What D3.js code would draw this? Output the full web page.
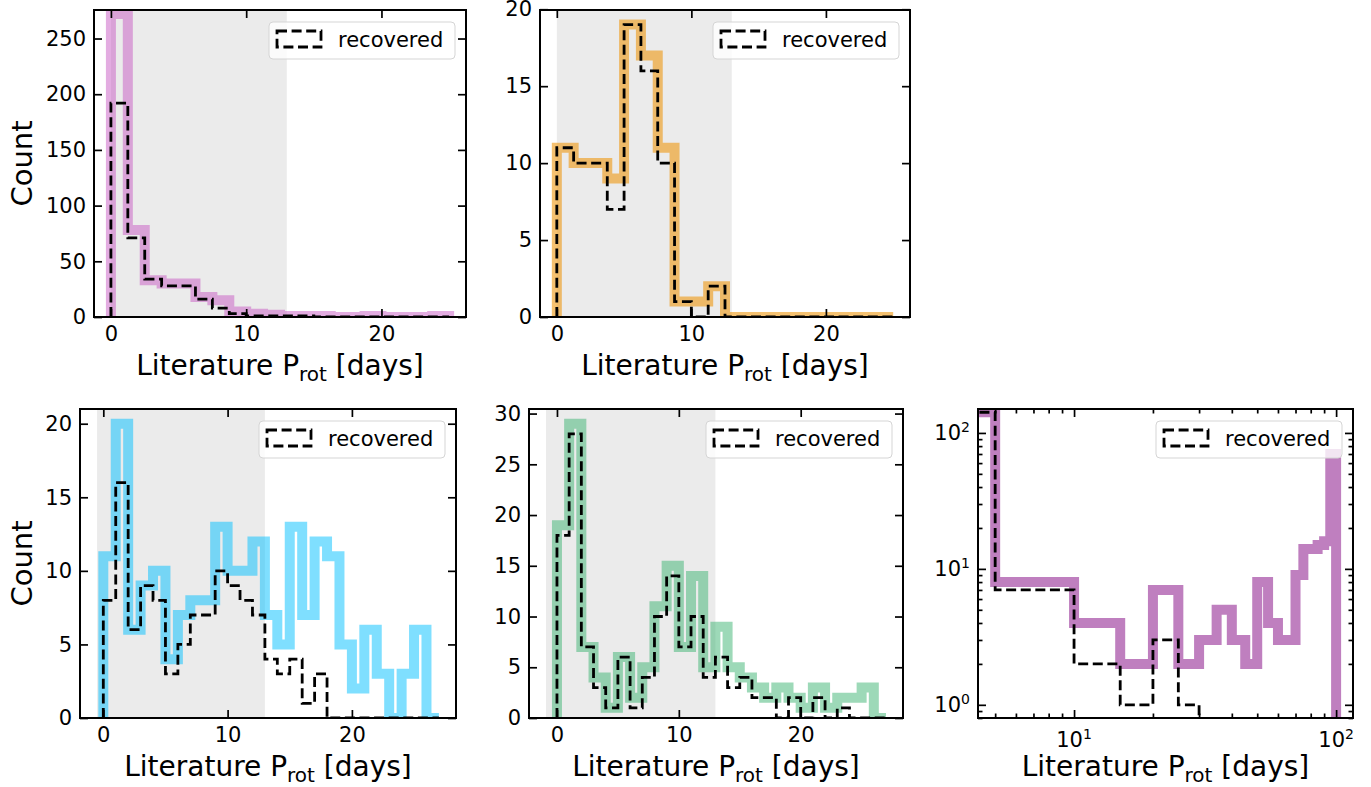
<!DOCTYPE html>
<html>
<head>
<meta charset="utf-8">
<script src="https://cdn.jsdelivr.net/npm/d3@7"></script>
<style>
  body { margin: 0; background: #fff; }
  svg { display: block; }
  text { font-family: "DejaVu Sans", sans-serif; fill: #000; }
</style>
</head>
<body>
<svg id="fig" width="1371" height="787"></svg>
<script>
// ---- bin edges (days) ----
const edgesShort = [0, 1.25, 2.5, 3.75, 5, 6.25, 7.5, 8.75, 10, 11.25, 12.5, 13.75, 15,
                    16.25, 17.5, 18.75, 20, 21.25, 22.5, 23.75, 25];
const edgesDaily = [0, 1, 2, 3, 4, 5, 6, 7, 8, 9, 10, 11, 12, 13, 14, 15, 16, 17, 18, 19,
                    20, 21, 22, 23, 24, 25, 26, 27];
const edgesWide  = [0, 5, 10, 15, 20, 25, 30, 35, 40, 45, 50, 55, 60, 65, 70, 75, 80, 85,
                    90, 95, 100];

// ---- counts per bin: full literature sample and recovered subset ----
const pinkAll  = [272, 78, 33, 30, 30, 18, 15, 5, 3, 2, 1, 1, 1, 0, 0, 1, 0, 0, 0, 1];
const pinkRec  = [192, 71, 34, 28, 28, 16, 8, 3, 1, 1, 1, 1, 0, 0, 0, 0, 0, 0, 0, 0];

const orangeAll = [11, 10, 10, 9, 19, 17, 11, 1, 1, 2, 0, 0, 0, 0, 0, 0, 0, 0, 0, 0];
const orangeRec = [11, 10, 10, 7, 19, 16, 10, 1, 0, 2, 0, 0, 0, 0, 0, 0, 0, 0, 0, 0];

const blueAll = [11, 20, 6, 9, 10, 4, 7, 8, 8, 13, 10, 10, 12, 7, 5, 13, 7, 12, 11, 5,
                 2, 6, 3, 0, 3, 6, 0];
const blueRec = [8, 16, 6, 9, 8, 3, 5, 7, 7, 10, 9, 8, 7, 4, 3, 4, 1, 3, 0, 0,
                 0, 0, 0, 0, 0, 0, 0];

const greenAll = [19, 29, 7, 4, 1, 6, 2, 5, 11, 15, 7, 14, 5, 9, 5, 4, 3, 2, 3, 2,
                  1, 3, 1, 2, 2, 3, 0];
const greenRec = [18, 28, 7, 3, 1, 6, 1, 4, 10, 14, 7, 10, 4, 6, 3, 4, 2, 2, 0, 2,
                  0, 2, 0, 1, 0, 0, 0];

const purpleAll = [142, 8, 4, 2, 7, 2, 3, 5, 3, 2, 8, 4, 3, 3, 9, 14, 14, 15, 16, 70];
const purpleRec = [142, 7, 2, 1, 3, 1, 0, 0, 0, 0, 0, 0, 0, 0, 0, 0, 0, 0, 0, 0];

// ---- tick values ----
const linXTicks = [0, 10, 20];
const pinkYTicks = [0, 50, 100, 150, 200, 250];
const orangeYTicks = [0, 5, 10, 15, 20];
const blueYTicks = [0, 5, 10, 15, 20];
const greenYTicks = [0, 5, 10, 15, 20, 25, 30];
const logMajor = [1, 10, 100];
const logMinorY = [0.8, 0.9, 2, 3, 4, 5, 6, 7, 8, 9, 20, 30, 40, 50, 60, 70, 80, 90];
const logMinorX = [5, 6, 7, 8, 9, 20, 30, 40, 50, 60, 70, 80, 90];

const FS_TICK = 21, FS_LABEL = 28, FS_LEGEND = 21;
const DASH = "10,4.6", DASH_W = 2.8;
const svg = d3.select("#fig");

const panels = [
  { id: "a", box: [94, 10, 466, 317], edges: edgesShort, all: pinkAll, rec: pinkRec,
    color: "#c85ac4", alpha: 0.5, xDomain: [-1.25, 26.25], yTop: 275.6, yTicks: pinkYTicks,
    span: [0, 13], yLabel: true },
  { id: "b", box: [540, 10, 910, 317], edges: edgesShort, all: orangeAll, rec: orangeRec,
    color: "#ee9408", alpha: 0.58, xDomain: [-1.25, 26.25], yTicks: orangeYTicks,
    span: [0, 13] },
  { id: "c", box: [80, 409, 456, 718], edges: edgesDaily, all: blueAll, rec: blueRec,
    color: "#00bfff", alpha: 0.5, xDomain: [-1.875, 28.375], yTicks: blueYTicks,
    span: [-0.5, 13], yLabel: true },
  { id: "d", box: [529, 409, 903, 718], edges: edgesDaily, all: greenAll, rec: greenRec,
    color: "#3cb371", alpha: 0.5, xDomain: [-2.295, 28.395], yTicks: greenYTicks,
    span: [-0.9, 13] },
  { id: "e", box: [978, 409, 1353, 718], edges: edgesWide, all: purpleAll, rec: purpleRec,
    color: "#800080", alpha: 0.5, xDomain: [4.3, 116], yDomain: [0.8, 150], log: true }
];

// histogram outline as a step polyline
function steps(edges, vals) {
  const pts = [[edges[0], 0]];
  vals.forEach((v, i) => { pts.push([edges[i], v]); pts.push([edges[i + 1], v]); });
  pts.push([edges[edges.length - 1], 0]);
  return pts;
}

function styleAxis(sel, withText) {
  sel.select(".domain").remove();
  sel.selectAll(".tick line").attr("stroke", "#000").attr("stroke-width", 1.7);
  if (withText) sel.selectAll(".tick text").attr("font-size", FS_TICK).attr("fill", "#000")
                   .attr("font-family", "DejaVu Sans, sans-serif");
  else sel.selectAll(".tick text").remove();
}

function drawPanel(p) {
  const [L, T, R, B] = p.box;
  const g = svg.append("g");
  const x = (p.log ? d3.scaleLog() : d3.scaleLinear()).domain(p.xDomain).range([L, R]);
  const yTop = p.log ? null : (p.yTop || d3.max(p.all) * 1.05);
  const y = p.log ? d3.scaleLog().domain(p.yDomain).range([B, T])
                  : d3.scaleLinear().domain([0, yTop]).range([B, T]);
  const px = v => (p.log && v <= 0) ? L - 80 : x(v);
  const py = v => (p.log && v <= 0) ? B + 80 : y(v);

  svg.append("clipPath").attr("id", "clip-" + p.id)
    .append("rect").attr("x", L).attr("y", T).attr("width", R - L).attr("height", B - T);
  const plot = g.append("g").attr("clip-path", `url(#clip-${p.id})`);

  if (p.span) {
    plot.append("rect")
      .attr("x", x(p.span[0])).attr("y", T)
      .attr("width", x(p.span[1]) - x(p.span[0])).attr("height", B - T)
      .attr("fill", "#ebebeb");
  }

  const line = d3.line().x(d => px(d[0])).y(d => py(d[1]));
  plot.append("path").attr("d", line(steps(p.edges, p.all)))
    .attr("fill", "none").attr("stroke", p.color).attr("stroke-opacity", p.alpha)
    .attr("stroke-width", 10).attr("stroke-linejoin", "miter").attr("stroke-miterlimit", 10);
  plot.append("path").attr("d", line(steps(p.edges, p.rec)))
    .attr("fill", "none").attr("stroke", "#000").attr("stroke-width", DASH_W)
    .attr("stroke-dasharray", DASH).attr("stroke-linejoin", "miter");

  // ticks (inward, on all four sides)
  const tl = 8, tm = 4.5;
  if (!p.log) {
    styleAxis(g.append("g").attr("transform", `translate(0,${B})`)
      .call(d3.axisBottom(x).tickValues(linXTicks).tickSize(-tl).tickPadding(9)), true);
    styleAxis(g.append("g").attr("transform", `translate(0,${T})`)
      .call(d3.axisTop(x).tickValues(linXTicks).tickSize(-tl)), false);
    styleAxis(g.append("g").attr("transform", `translate(${L},0)`)
      .call(d3.axisLeft(y).tickValues(p.yTicks).tickSize(-tl).tickPadding(8)), true);
    styleAxis(g.append("g").attr("transform", `translate(${R},0)`)
      .call(d3.axisRight(y).tickValues(p.yTicks).tickSize(-tl)), false);
  } else {
    const xMaj = [10, 100], yMaj = logMajor;
    [[d3.axisBottom, B], [d3.axisTop, T]].forEach(([ax, pos]) => {
      styleAxis(g.append("g").attr("transform", `translate(0,${pos})`)
        .call(ax(x).tickValues(xMaj).tickSize(-tl)), false);
      styleAxis(g.append("g").attr("transform", `translate(0,${pos})`)
        .call(ax(x).tickValues(logMinorX).tickSize(-tm)), false);
    });
    [[d3.axisLeft, L], [d3.axisRight, R]].forEach(([ax, pos]) => {
      styleAxis(g.append("g").attr("transform", `translate(${pos},0)`)
        .call(ax(y).tickValues(yMaj).tickSize(-tl)), false);
      styleAxis(g.append("g").attr("transform", `translate(${pos},0)`)
        .call(ax(y).tickValues(logMinorY).tickSize(-tm)), false);
    });
    // power-of-ten labels
    xMaj.forEach(v => {
      const t = g.append("text").attr("x", x(v)).attr("y", B + 29)
        .attr("text-anchor", "middle").attr("font-size", FS_TICK);
      t.append("tspan").text("10");
      t.append("tspan").attr("dy", -8).attr("font-size", 14).text(Math.round(Math.log10(v)));
    });
    yMaj.forEach(v => {
      const t = g.append("text").attr("x", L - 8).attr("y", y(v) + 7)
        .attr("text-anchor", "end").attr("font-size", FS_TICK);
      t.append("tspan").text("10");
      t.append("tspan").attr("dy", -8).attr("font-size", 14).text(Math.round(Math.log10(v)));
    });
  }

  // frame
  g.append("rect").attr("x", L).attr("y", T).attr("width", R - L).attr("height", B - T)
    .attr("fill", "none").attr("stroke", "#000").attr("stroke-width", 2);

  // legend
  const lw = 186, lh = 37, lx = R - 11 - lw, ly = T + 12;
  const lg = g.append("g");
  lg.append("rect").attr("x", lx).attr("y", ly).attr("width", lw).attr("height", lh)
    .attr("rx", 4).attr("fill", "#fff").attr("fill-opacity", 0.8)
    .attr("stroke", "#d5d5d5").attr("stroke-width", 1);
  lg.append("rect").attr("x", lx + 8).attr("y", ly + 9).attr("width", 44).attr("height", 16)
    .attr("fill", "none").attr("stroke", "#000").attr("stroke-width", DASH_W)
    .attr("stroke-dasharray", DASH);
  lg.append("text").attr("x", lx + 69).attr("y", ly + 25).attr("font-size", FS_LEGEND)
    .text("recovered");

  // axis labels
  const xl = g.append("text").attr("x", (L + R) / 2).attr("y", B + 58)
    .attr("text-anchor", "middle").attr("font-size", FS_LABEL);
  xl.append("tspan").text("Literature P");
  xl.append("tspan").attr("dy", 6).attr("font-size", 20).text("rot");
  xl.append("tspan").attr("dy", -6).text(" [days]");

  if (p.yLabel) {
    g.append("text").attr("transform", `translate(32,${(T + B) / 2}) rotate(-90)`)
      .attr("text-anchor", "middle").attr("font-size", 29).text("Count");
  }
}

panels.forEach(drawPanel);
</script>
</body>
</html>
